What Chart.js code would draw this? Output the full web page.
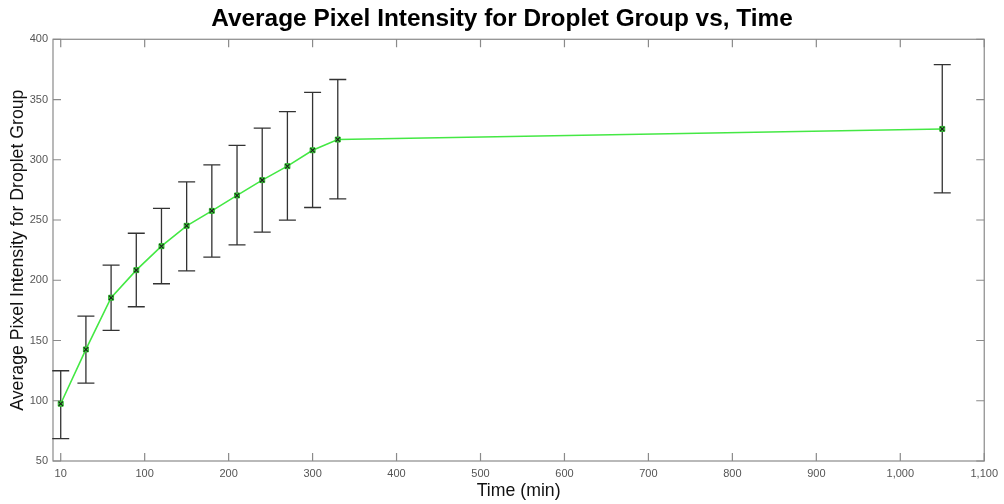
<!DOCTYPE html>
<html>
<head>
<meta charset="utf-8">
<script src="https://cdn.jsdelivr.net/npm/chart.js@4/dist/chart.umd.min.js"></script>
<style>
  html, body { margin: 0; padding: 0; background: #fff; }
  #wrap { width: 1004px; height: 504px; position: relative; }
</style>
</head>
<body>
<div id="wrap"><canvas id="c" width="1004" height="504"></canvas></div>
<script>
// ---- data ----
const times = [0, 30, 60, 90, 120, 150, 180, 210, 240, 270, 300, 330, 1050];
const meanIntensity = [97.5, 142.6, 185.5, 208.4, 228.3, 245.2, 257.6, 270.4, 283.1, 294.7, 307.9, 316.8, 325.6];
const errLow  = [68.5, 114.7, 158.4, 178.0, 197.1, 207.8, 219.2, 229.4, 239.9, 249.9, 260.4, 267.6, 272.5];
const errHigh = [124.9, 170.3, 212.6, 239.0, 259.6, 281.7, 295.8, 311.9, 326.2, 340.0, 356.0, 366.6, 379.0];
const xTickValues = [0, 100, 200, 300, 400, 500, 600, 700, 800, 900, 1000, 1100];
const xTickLabels = ["10", "100", "200", "300", "400", "500", "600", "700", "800", "900", "1,000", "1,100"];
const yTickValues = [50, 100, 150, 200, 250, 300, 350, 400];

const points = times.map((t, i) => ({ x: t, y: meanIntensity[i] }));

const errorBarPlugin = {
  id: 'errorBars',
  beforeDatasetsDraw(chart) {
    const { ctx, scales: { x, y } } = chart;
    ctx.save();
    ctx.strokeStyle = '#333';
    ctx.lineWidth = 1.3;
    const cap = 8.5;
    times.forEach((t, i) => {
      const px = x.getPixelForValue(t);
      const lo = y.getPixelForValue(errLow[i]);
      const hi = y.getPixelForValue(errHigh[i]);
      ctx.beginPath();
      ctx.moveTo(px, lo); ctx.lineTo(px, hi);
      ctx.moveTo(px - cap, lo); ctx.lineTo(px + cap, lo);
      ctx.moveTo(px - cap, hi); ctx.lineTo(px + cap, hi);
      ctx.stroke();
    });
    ctx.restore();
  }
};

const framePlugin = {
  id: 'frame',
  beforeDatasetsDraw(chart) {
    const { ctx, chartArea: a, scales: { x, y } } = chart;
    ctx.save();
    ctx.strokeStyle = '#8a8a8a';
    ctx.lineWidth = 1.2;
    ctx.strokeRect(a.left, a.top, a.right - a.left, a.bottom - a.top);
    const tl = 8;
    ctx.beginPath();
    xTickValues.forEach(v => {
      const px = x.getPixelForValue(v);
      ctx.moveTo(px, a.bottom); ctx.lineTo(px, a.bottom - tl);
      ctx.moveTo(px, a.top); ctx.lineTo(px, a.top + tl);
    });
    yTickValues.forEach(v => {
      const py = y.getPixelForValue(v);
      ctx.moveTo(a.left, py); ctx.lineTo(a.left + tl, py);
      ctx.moveTo(a.right, py); ctx.lineTo(a.right - tl, py);
    });
    ctx.stroke();
    ctx.restore();
  }
};

new Chart(document.getElementById('c'), {
  type: 'line',
  data: {
    datasets: [
      {
        data: points,
        order: 2,
        borderColor: '#44e844',
        borderWidth: 1.6,
        pointStyle: 'rect',
        pointRadius: 3.5,
        pointBackgroundColor: '#3fd83f',
        pointBorderColor: '#2fb82f',
        pointBorderWidth: 1,
        tension: 0
      },
      {
        data: points,
        order: 1,
        showLine: false,
        pointStyle: 'crossRot',
        pointRadius: 3,
        pointBorderColor: '#1a1a1a',
        pointBorderWidth: 1.1
      }
    ]
  },
  options: {
    responsive: false,
    animation: false,
    devicePixelRatio: 1,
    layout: { padding: { left: 0, right: 0, top: 0, bottom: 0 } },
    plugins: {
      legend: { display: false },
      tooltip: { enabled: false },
      title: {
        display: true,
        text: 'Average Pixel Intensity for Droplet Group vs, Time',
        color: '#000',
        font: { family: 'Liberation Sans, Arial, sans-serif', size: 24.4, weight: 'bold', lineHeight: 1.2 },
        padding: { top: 5, bottom: 5 }
      }
    },
    scales: {
      x: {
        type: 'linear',
        min: -9.2,
        max: 1100,
        grid: { display: false, drawTicks: false },
        border: { display: false },
        afterBuildTicks(scale) { scale.ticks = xTickValues.map(v => ({ value: v })); },
        afterFit(scale) { scale.height = 43; },
        ticks: {
          padding: 6,
          color: '#555',
          font: { family: 'Liberation Sans, Arial, sans-serif', size: 11 },
          maxRotation: 0,
          autoSkip: false,
          callback: (v, i) => xTickLabels[i]
        },
        title: {
          display: true,
          text: 'Time (min)',
          color: '#111',
          font: { family: 'Liberation Sans, Arial, sans-serif', size: 17.7 },
          padding: { top: 0, bottom: 2 }
        }
      },
      y: {
        min: 50,
        max: 400,
        grid: { display: false, drawTicks: false },
        border: { display: false },
        afterBuildTicks(scale) { scale.ticks = yTickValues.map(v => ({ value: v })); },
        afterFit(scale) { scale.width = 53; },
        ticks: {
          padding: 5,
          color: '#555',
          font: { family: 'Liberation Sans, Arial, sans-serif', size: 11 }
        },
        title: {
          display: true,
          text: 'Average Pixel Intensity for Droplet Group',
          color: '#111',
          font: { family: 'Liberation Sans, Arial, sans-serif', size: 17.7 },
          padding: { top: 7, bottom: 0 }
        }
      },
      yRight: {
        position: 'right',
        min: 50,
        max: 400,
        grid: { display: false, drawTicks: false },
        border: { display: false },
        ticks: { display: false },
        afterFit(scale) { scale.width = 18; }
      }
    }
  },
  plugins: [framePlugin, errorBarPlugin]
});
</script>
</body>
</html>
